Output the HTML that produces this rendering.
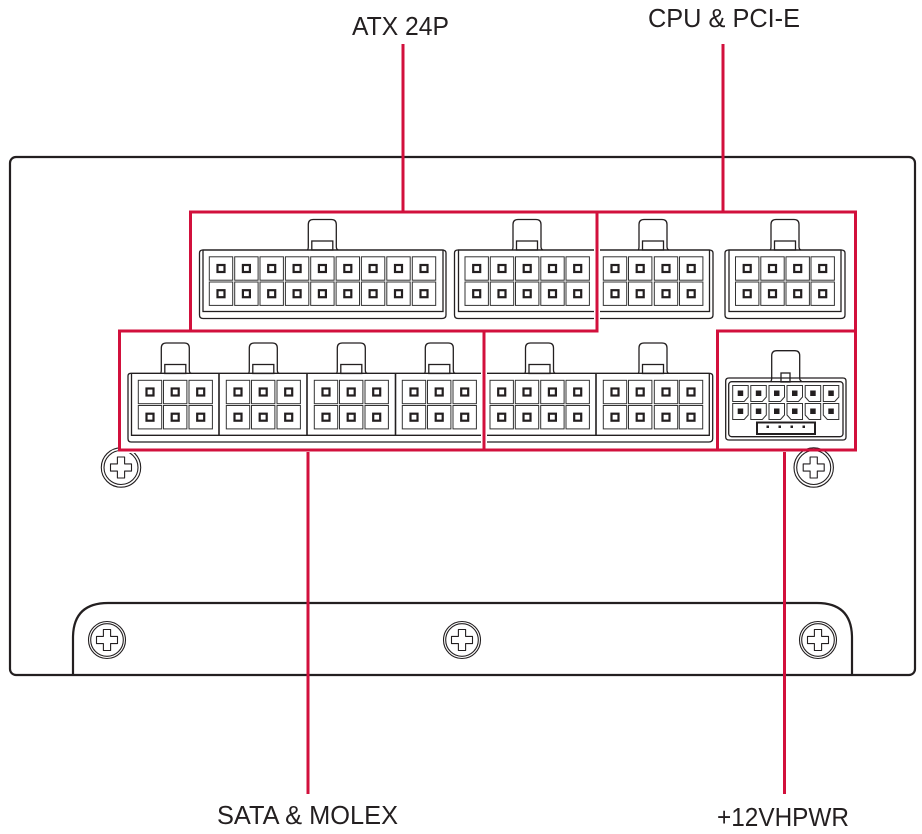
<!DOCTYPE html>
<html><head><meta charset="utf-8"><style>
html,body{margin:0;padding:0;background:#fff;width:922px;height:834px;overflow:hidden}
svg{display:block}
text{font-family:"Liberation Sans",sans-serif;font-size:26px;fill:#231f20}
.k{fill:none;stroke:#231f20;stroke-width:1.300}
.b{fill:none;stroke:#231f20;stroke-width:2.200}
.r{fill:none;stroke:#d2103c;stroke-width:3}
.h{fill:none;stroke:#fff;stroke-width:6}
</style></head><body>
<svg width="922" height="834" viewBox="0 0 922 834" xmlns="http://www.w3.org/2000/svg">
<defs>
<g id="p"><rect x="0" y="0" width="23.400" height="23.400" fill="#fff" stroke="#333" stroke-width="1"/><rect x="8.200" y="8.200" width="7" height="7" fill="#fff" stroke="#231f20" stroke-width="2.200"/></g>
<path id="tb" class="k" d="M-1 30.500Q0 30 0 27V5Q0 0 5 0H23Q28 0 28 5V27Q28 30 30 30.500" fill="#fff"/>
<g id="tab"><use href="#tb"/><rect class="k" x="3.500" y="21.500" width="21" height="9" fill="#fff"/></g>
<g id="c2"><use href="#p"/><use href="#p" y="25.200"/></g>
<path id="cross" d="M-3.600 -10.500H3.600V-3.600H10.500V3.600H3.600V10.500H-3.600V3.600H-10.500V-3.600H-3.600Z" fill="none" stroke="#231f20" stroke-width="1.100" stroke-linejoin="round"/>
<g id="s1"><circle r="19.700" fill="#fff" stroke="#231f20" stroke-width="1.100"/><circle r="17" fill="none" stroke="#231f20" stroke-width="1.100"/><use href="#cross"/></g>
<g id="s2"><circle r="18.500" fill="#fff" stroke="#231f20" stroke-width="1.100"/><circle r="16.300" fill="none" stroke="#231f20" stroke-width="1.100"/><use href="#cross"/></g>
<g id="v1"><path d="M0 0H15.500V11.500L11.500 16H0Z" fill="#fff" stroke="#333" stroke-width="1"/><rect x="5" y="5" width="5.500" height="5.500" fill="#231f20"/></g>
<g id="v2"><path d="M0 0H15.500V16H4L0 11.500Z" fill="#fff" stroke="#333" stroke-width="1"/><rect x="5" y="5" width="5.500" height="5.500" fill="#231f20"/></g>
</defs>

<!-- chassis -->
<rect x="10" y="157" width="905" height="518" rx="6" fill="#fff" stroke="#231f20" stroke-width="2.200"/>
<path class="b" d="M73 675V638Q73 603 108 603H817Q852 603 852 638V675"/>
<use href="#s1" x="121" y="467.500"/>
<use href="#s1" x="813.700" y="467.500"/>
<use href="#s2" x="107" y="640"/>
<use href="#s2" x="462" y="640"/>
<use href="#s2" x="818" y="640"/>

<!-- top row connectors -->
<use href="#tab" x="308.300" y="219.500"/>
<use href="#tab" x="513" y="219.500"/>
<use href="#tab" x="639" y="219.500"/>
<use href="#tab" x="771" y="219.500"/>
<path class="k" d="M199.500 253Q199.500 250 203 250H442Q446 250 446 253V315Q446 318.500 442 318.500H203Q199.500 318.500 199.500 315Z" fill="#fff"/>
<rect class="k" x="203" y="250" width="240" height="61.500"/>
<path class="k" d="M454.500 253Q454.500 250 458 250H709Q713 250 713 253V315Q713 318.500 709 318.500H458Q454.500 318.500 454.500 315Z" fill="#fff"/>
<rect class="k" x="458.500" y="250" width="251" height="61.500"/>
<path class="k" d="M725 253Q725 250 729 250H841Q845 250 845 253V315Q845 318.500 841 318.500H729Q725 318.500 725 315Z" fill="#fff"/>
<rect class="k" x="729" y="250" width="112" height="61.500"/>
<g transform="translate(0 256.800)">
<use href="#c2" x="209.300"/><use href="#c2" x="234.700"/><use href="#c2" x="260"/><use href="#c2" x="285.400"/><use href="#c2" x="310.700"/><use href="#c2" x="336.100"/><use href="#c2" x="361.400"/><use href="#c2" x="386.800"/><use href="#c2" x="412.300"/>
<use href="#c2" x="465"/><use href="#c2" x="490.300"/><use href="#c2" x="515.500"/><use href="#c2" x="540.800"/><use href="#c2" x="566"/>
<use href="#c2" x="603.300"/><use href="#c2" x="628.500"/><use href="#c2" x="654.300"/><use href="#c2" x="679.500"/>
<use href="#c2" x="735.500"/><use href="#c2" x="760.800"/><use href="#c2" x="786"/><use href="#c2" x="811"/>
</g>

<!-- second row connectors -->
<use href="#tab" x="161.300" y="343"/>
<use href="#tab" x="249.300" y="343"/>
<use href="#tab" x="337.300" y="343"/>
<use href="#tab" x="425.300" y="343"/>
<use href="#tab" x="525.500" y="343"/>
<use href="#tab" x="639" y="343"/>
<path class="k" d="M128 376Q128 373.300 131 373.300H709Q712.700 373.300 712.700 376V438.500Q712.700 442 709 442H131Q128 442 128 438.500Z" fill="#fff"/>
<path class="k" d="M131.500 373.300V435.300H709.300V373.300"/>
<path class="k" d="M219 373.300V435.300M307 373.300V435.300M395.500 373.300V435.300M596 373.300V435.300" style="stroke-width:1.600"/>
<g transform="translate(0 380.300)">
<use href="#c2" x="138.300"/><use href="#c2" x="163.500"/><use href="#c2" x="189"/>
<use href="#c2" x="226.300"/><use href="#c2" x="251.500"/><use href="#c2" x="277"/>
<use href="#c2" x="314.300"/><use href="#c2" x="339.500"/><use href="#c2" x="365"/>
<use href="#c2" x="402.300"/><use href="#c2" x="427.500"/><use href="#c2" x="453"/>
<use href="#c2" x="490"/><use href="#c2" x="515.300"/><use href="#c2" x="540.700"/><use href="#c2" x="566"/>
<use href="#c2" x="603.300"/><use href="#c2" x="628.500"/><use href="#c2" x="654.300"/><use href="#c2" x="679.300"/>
</g>

<!-- 12VHPWR -->
<use href="#tb" x="771.700" y="350.700"/>
<path class="k" d="M725.700 381Q725.700 378 729 378H843Q846 378 846 381V437Q846 440 843 440H729Q725.700 440 725.700 437Z" fill="#fff"/>
<rect class="k" x="728.700" y="381.700" width="114.300" height="55" rx="3"/>
<rect class="k" x="781" y="373" width="9" height="9" fill="#fff"/>
<g transform="translate(0 385.500)">
<use href="#v1" x="732.700"/><use href="#v1" x="750.800"/><use href="#v1" x="769"/><use href="#v1" x="787"/><use href="#v2" x="805.200"/><use href="#v1" x="823.300"/>
</g>
<g transform="translate(0 403.500)">
<use href="#v1" x="732.700"/><use href="#v1" x="750.800"/><use href="#v1" x="769"/><use href="#v2" x="787"/><use href="#v2" x="805.200"/><use href="#v2" x="823.300"/>
</g>
<rect x="757" y="422.500" width="58" height="11.500" fill="#fff" stroke="#231f20" stroke-width="2"/>
<rect x="766.500" y="425.500" width="2.500" height="2.500" fill="#231f20"/>
<rect x="778.500" y="425.500" width="2.500" height="2.500" fill="#231f20"/>
<rect x="790.500" y="425.500" width="2.500" height="2.500" fill="#231f20"/>
<rect x="802.500" y="425.500" width="2.500" height="2.500" fill="#231f20"/>

<!-- white halo + red -->
<path class="h" d="M597 212V331M484 331V450M119 450H717"/>
<path class="h" d="M308 452V490M784.500 452V490" style="stroke-width:8"/>
<path class="r" d="M190.500 331V212H855.500V450H119.500V331H597V212M484 331V450M717.500 450V331H855.500"/>
<path class="r" d="M403 44V212M723 44V212M308 452V794M784.500 452V794"/>

<!-- labels -->
<text x="352" y="35" textLength="97" lengthAdjust="spacingAndGlyphs">ATX 24P</text>
<text x="648" y="27" textLength="152" lengthAdjust="spacingAndGlyphs">CPU &amp; PCI-E</text>
<text x="217" y="824" textLength="181" lengthAdjust="spacingAndGlyphs">SATA &amp; MOLEX</text>
<text x="717" y="826" textLength="132" lengthAdjust="spacingAndGlyphs">+12VHPWR</text>
</svg>
</body></html>
